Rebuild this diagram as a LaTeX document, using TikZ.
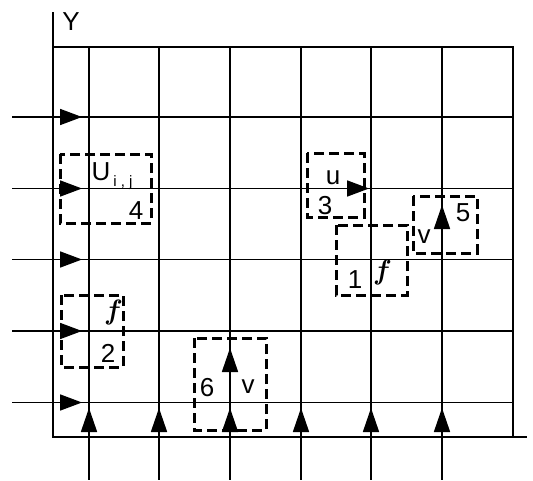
\documentclass[tikz,border=0pt]{standalone}
\usepackage{fontspec}
\setmainfont{Liberation Sans}
\newfontfamily\ffont{Latin Modern Roman}
\usetikzlibrary{arrows.meta}
\begin{document}
\begin{tikzpicture}[x=1pt,y=-1pt,
  gridline/.style={line width=1.7pt},
  dbox/.style={line width=3pt, dash pattern=on 10pt off 5pt},
  harr/.style={line width=1.7pt,-{Triangle[length=22pt,width=16pt]}},
  varr/.style={line width=1.7pt,-{Triangle[length=24pt,width=16pt]}},
  lbl/.style={inner sep=0pt,font=\fontsize{26}{28}\selectfont},
  sub/.style={inner sep=0pt,font=\fontsize{15}{17}\selectfont},
  fl/.style={inner sep=0pt,font=\fontsize{28}{30}\ffont\bfseries\itshape}]
\useasboundingbox (0,0) rectangle (533,480);
% axes
\draw[gridline] (53,12) -- (53,437) -- (527,437);
% top line and right line
\draw[gridline] (53,47) -- (513,47) -- (513,437);
% horizontal grid lines
\foreach \y in {117,188.5,259.5,331,402.5}{
  \draw[gridline] (12,\y) -- (513,\y);
  \draw[harr] (58,\y) -- (82,\y);
}
% vertical grid lines
\foreach \x in {89,159,230,301,371,442}{
  \draw[gridline] (\x,47) -- (\x,480);
  \draw[varr] (\x,434) -- (\x,408);
}
% inner arrows
\draw[harr] (346,188.5) -- (369,188.5);
\draw[varr] (442,228) -- (442,205);
\draw[varr] (230,370) -- (230,348);
% dashed boxes
\draw[dbox] (60,154) rectangle (151,223);
\draw[dbox] (307,153) rectangle (364,217);
\draw[dbox] (336,225) rectangle (407,295);
\draw[dbox] (413,196) rectangle (477,253);
\draw[dbox] (61,295) rectangle (123,367);
\draw[dbox] (194,338) rectangle (266,430);
% labels
\node[lbl] (Y) at (71,22) {Y};
\node[lbl] (U) at (101,172) {U};
\node[sub] (ij) at (123,183) {i , j};
\node[lbl] (n4) at (136,211) {4};
\node[lbl] (u) at (333,178) {u};
\node[lbl] (n3) at (325,206) {3};
\node[lbl] (n1) at (355,280) {1};
\node[fl] (f1) at (381,272) {f};
\node[lbl] (v5) at (424,237) {v};
\node[lbl] (n5) at (463,213) {5};
\node[fl] (f2) at (112,312) {f};
\node[lbl] (n2) at (108,353) {2};
\node[lbl] (n6) at (207,388) {6};
\node[lbl] (v6) at (248,387) {v};
\end{tikzpicture}
\end{document}
